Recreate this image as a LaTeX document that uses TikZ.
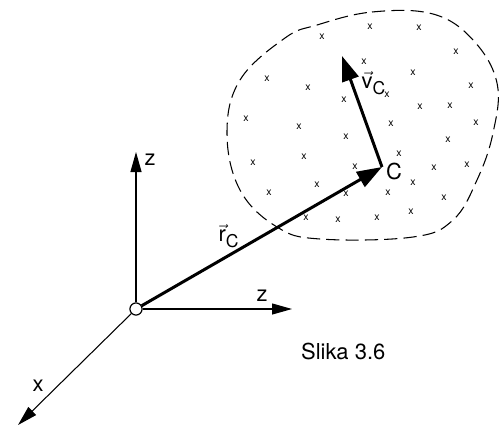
\documentclass[tikz,border=0pt]{standalone}
\usepackage{fontspec}
\setmainfont{TeX Gyre Heros}
\usetikzlibrary{arrows.meta}
\tikzset{
  axis/.style={-{Triangle[length=4mm, width=2.2mm]}, draw=black, line width=0.6pt},
  vecarrow/.style={-{Triangle[length=5mm, width=3.4mm]}, draw=black, line width=1.7pt},
  blob/.style={draw=black, line width=0.6pt, dash pattern=on 7.5pt off 3.5pt},
  origin/.style={circle, draw=black, fill=white, line width=0.6pt, inner sep=0pt, minimum size=2.4mm},
  lbl/.style={inner sep=1pt, font=\fontsize{12.5}{14}\selectfont},
  particle/.style={inner sep=0pt, font=\fontsize{6}{6}\selectfont},
}
\newcommand{\veclbl}[2]{$\vec{\mbox{#1}}_{\mbox{\fontsize{10}{10}\selectfont #2}}$}

\begin{document}
\begin{tikzpicture}[x=0.02cm, y=-0.02cm]
    \useasboundingbox (0,0) rectangle (500,430);
    % body of particles
    \draw[blob] plot[smooth cycle, tension=0.65] coordinates {
      (317,25) (372,12) (433,14) (473,40) (497,83) (493,133) (477,180)
      (453,220) (413,237) (320,239) (277,227) (240,190) (227,133) (240,80) (285,38)};
    \foreach \p [count=\i] in {(322,37),(370,27),(419,28),(456,52),(267,79),(308,88),
        (413,73),(387,95),(344,100),(471,86),(246,119),(299,127),(346,137),(391,124),
        (420,107),(450,106),(476,123),(448,140),(253,163),(304,157),(355,167),(434,168),
        (467,165),(269,193),(317,185),(346,194),(388,193),(413,183),(444,198),(306,218),
        (338,220),(377,218),(411,212),(364,62),(399,154)}
      \node[particle] (p\i) at \p {x};
    % axes
    \node[origin] (o) at (136,309) {};
    \coordinate (ztip) at (136,152);
    \coordinate (ytip) at (292,309);
    \coordinate (xtip) at (18,425);
    \coordinate (C) at (382,167);
    \coordinate (vtip) at (342,56);
    \draw[axis] (o) -- (ztip);
    \draw[axis] (o) -- (ytip);
    \draw[axis] (o) -- (xtip);
    \draw[vecarrow] (o) -- (C);
    \draw[vecarrow] (C) -- (vtip);
    \node[origin] (o2) at (o) {};
    % labels
    \node[lbl] (zlab) at (150,160) {z};
    \node[lbl] (ylab) at (262,296) {z};
    \node[lbl] (xlab) at (38,386) {x};
    \node[lbl] (clab) at (394,171) {C};
    \node[lbl] (rlab) at (229,236) {\veclbl{r}{C}};
    \node[lbl] (vlab) at (374,83) {\veclbl{v}{C}};
    \node[lbl, anchor=west] (cap) at (299,351) {Slika 3.6};
\end{tikzpicture}
\end{document}
